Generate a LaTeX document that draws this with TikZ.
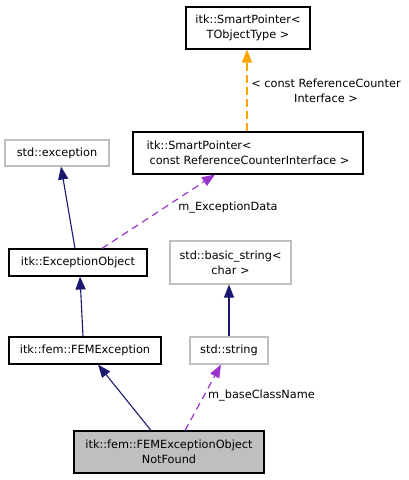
\documentclass[tikz,border=0pt]{standalone}
\usepackage{fontspec}
\setmainfont{DejaVu Sans}
\usetikzlibrary{arrows.meta}
\definecolor{edgeblue}{HTML}{191970}
\definecolor{edgepurple}{HTML}{9A32CD}
\definecolor{edgeorange}{HTML}{FFA500}
\definecolor{boxgrey}{HTML}{BFBFBF}
\tikzset{
  every node/.style={font=\fontsize{11.3}{15}\selectfont, inner sep=0pt},
  cls/.style={draw=black, line width=1.1pt, rectangle, align=center},
  ext/.style={draw=boxgrey, line width=1.1pt, rectangle, align=center},
  tip/.style={-{Triangle[length=13pt,width=10pt]}},
  inh/.style={draw=edgeblue, line width=1.1pt, tip},
  usea/.style={draw=edgepurple, line width=1.2pt, dash pattern=on 7pt off 5pt, tip},
  tmpl/.style={draw=edgeorange, line width=1.5pt, dash pattern=on 8pt off 4pt, tip},
  lbl/.style={align=center}
}
\begin{document}
\begin{tikzpicture}[x=1pt,y=-1pt]
\useasboundingbox (0,0) rectangle (409,480);
\node[cls, minimum width=124pt, minimum height=42pt] (tobj) at (248,28) {itk::SmartPointer<\\TObjectType >};
\node[cls, minimum width=230pt, minimum height=42pt, align=left] (rci) at (248,153) {itk::SmartPointer<\\\hspace*{3pt}const ReferenceCounterInterface >};
\node[ext, minimum width=104pt, minimum height=26pt] (exc) at (57,153) {std::exception};
\node[cls, minimum width=138pt, minimum height=27pt] (eo) at (78,262.5) {itk::ExceptionObject};
\node[ext, minimum width=121pt, minimum height=43pt] (bs) at (230.5,262.5) {std::basic\_string<\\char >};
\node[cls, minimum width=152pt, minimum height=27pt] (femex) at (85,350.5) {itk::fem::FEMException};
\node[ext, minimum width=78pt, minimum height=27pt] (str) at (229,350.5) {std::string};
\node[cls, fill=boxgrey, minimum width=190pt, minimum height=42pt] (nf) at (169,452) {itk::fem::FEMExceptionObject\\NotFound};

\draw[inh] ([xshift=-3pt]eo.north) -- ([xshift=4pt]exc.south);
\draw[usea] ([xshift=24pt]eo.north) -- ([xshift=-33pt]rci.south);
\node[lbl] (l1) at (228,208) {m\_ExceptionData};
\draw[tmpl] ([xshift=-1pt]rci.north) -- ([xshift=-1pt]tobj.south);
\node[lbl] (l2) at (326,90.5) {< const ReferenceCounter\\Interface >};
\draw[inh] ([xshift=-2pt]femex.north) -- ([xshift=2pt]eo.south);
\draw[inh] (str.north) -- ([xshift=-1.5pt]bs.south);
\draw[inh] ([xshift=-18pt]nf.north) -- ([xshift=13pt]femex.south);
\draw[usea] ([xshift=16pt]nf.north) -- ([xshift=-8pt]str.south);
\node[lbl] (l3) at (261.5,396) {m\_baseClassName};
\end{tikzpicture}
\end{document}
